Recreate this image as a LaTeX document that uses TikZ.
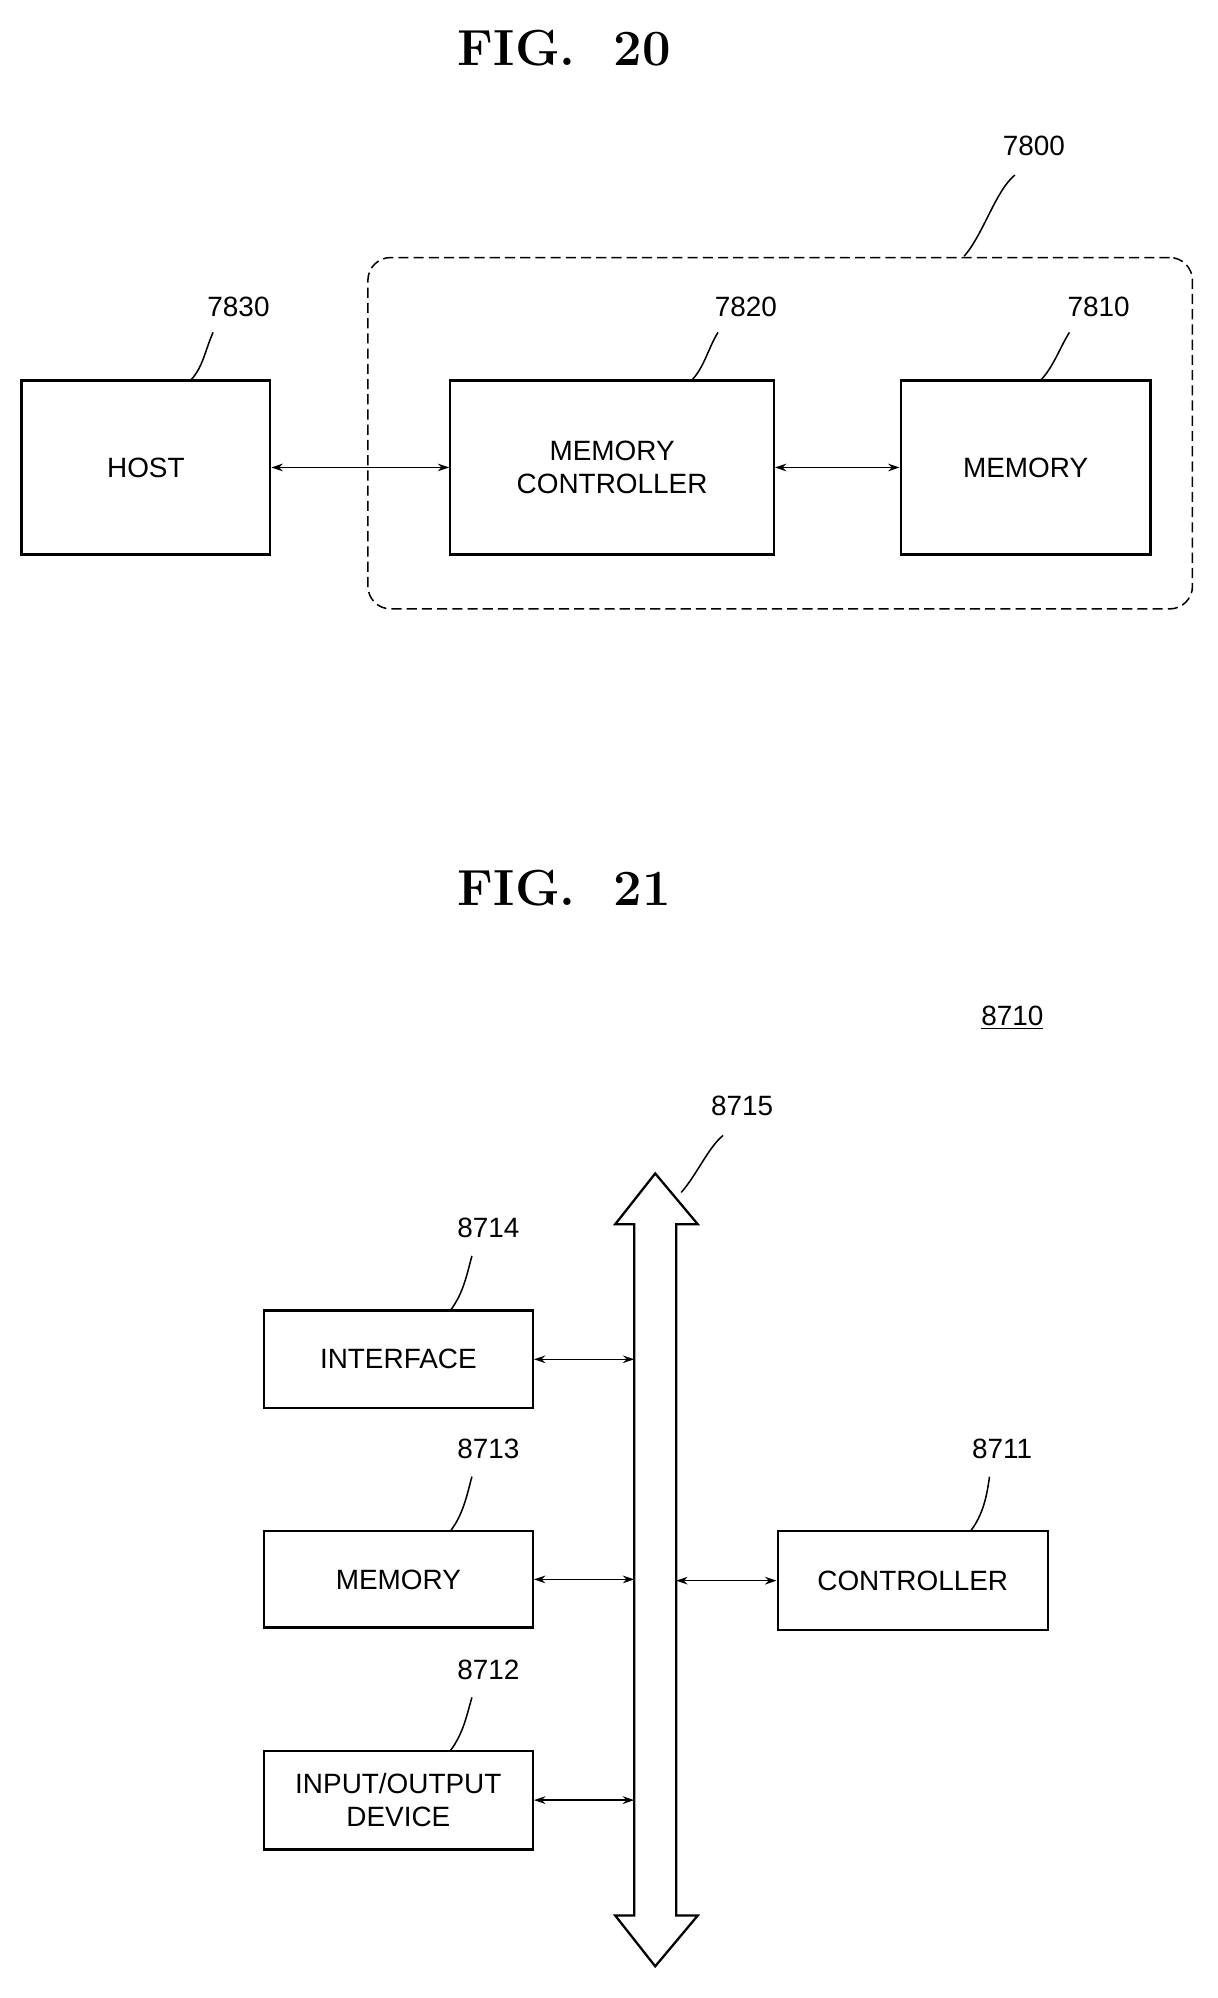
\documentclass[tikz,border=0pt]{standalone}
\usepackage{fontspec}
\setsansfont{Liberation Sans}
\usetikzlibrary{arrows.meta}
\begin{document}
\begin{tikzpicture}[x=1pt,y=-1pt,
  box/.style={draw,line width=1.8pt,inner sep=0pt,font=\sffamily\fontsize{22}{26}\selectfont,align=center},
  lbl/.style={font=\sffamily\fontsize{22}{26}\selectfont},
  fig/.style={font=\bfseries\fontsize{40}{44}\selectfont},
  con/.style={line width=1.2pt,{Stealth[length=9pt,width=6pt]}-{Stealth[length=9pt,width=6pt]}},
  lead/.style={line width=1.2pt}]
\useasboundingbox (0,0) rectangle (960,1575);
\node[fig] (f20) at (445,38) {FIG.\ \ 20};
\node[draw,dash pattern=on 8pt off 4pt,line width=1.2pt,rounded corners=18pt,minimum width=650pt,minimum height=277pt] (g7800) at (615,341.5) {};
\node[lbl] (l7800) at (815,115) {7800};
\draw[lead] (760,202) .. controls (775,185) and (785,150) .. (800,138);
\node[box,minimum width=196pt,minimum height=137pt] (host) at (115,368.5) {HOST};
\node[box,minimum width=255pt,minimum height=137pt] (mc) at (482.5,368.5) {MEMORY\\CONTROLLER};
\node[box,minimum width=197pt,minimum height=137pt] (mem) at (808.5,368.5) {MEMORY};
\node[lbl] (l7830) at (188,242) {7830};
\node[lbl] (l7820) at (588,242) {7820};
\node[lbl] (l7810) at (866,242) {7810};
\draw[lead] (150,300) .. controls (160,290) and (162,275) .. (168,262);
\draw[lead] (545,300) .. controls (555,290) and (558,275) .. (566,262);
\draw[lead] (820,300) .. controls (830,290) and (835,275) .. (843,262);
\draw[con] (host.east) -- (mc.west);
\draw[con] (mc.east) -- (mem.west);

\node[fig] (f21) at (445,700) {FIG.\ \ 21};
\node[lbl] (l8710) at (798,802) {\underline{8710}};
\draw[line width=1.8pt,line join=miter] (500,965) -- (485,965) -- (516.5,925) -- (550,965) -- (533,965)
  -- (533,1510) -- (550,1510) -- (516.5,1550) -- (485,1510) -- (500,1510) -- cycle;
\coordinate (bx) at (500,0); \coordinate (bxr) at (533,0);
\node[lbl] (l8715) at (585,872) {8715};
\draw[lead] (537,940) .. controls (550,925) and (558,905) .. (570,895);
\node[box,minimum width=212pt,minimum height=77pt] (if) at (314,1071.5) {INTERFACE};
\node[box,minimum width=212pt,minimum height=76pt] (m2) at (314,1245) {MEMORY};
\node[box,minimum width=212pt,minimum height=78pt] (io) at (314,1419) {INPUT/OUTPUT\\DEVICE};
\node[box,minimum width=213pt,minimum height=78pt] (ctl) at (719.5,1246) {CONTROLLER};
\node[lbl] (l8714) at (385,968) {8714};
\node[lbl] (l8713) at (385,1142) {8713};
\node[lbl] (l8712) at (385,1316) {8712};
\node[lbl] (l8711) at (790,1142) {8711};
\draw[lead] (355,1033) .. controls (365,1020) and (368,1005) .. (372,990);
\draw[lead] (355,1207) .. controls (365,1194) and (368,1179) .. (372,1164);
\draw[lead] (355,1380) .. controls (365,1367) and (368,1352) .. (372,1338);
\draw[lead] (765,1207) .. controls (775,1194) and (778,1179) .. (780,1164);
\draw[con] (if.east) -- (if.east -| bx);
\draw[con] (m2.east) -- (m2.east -| bx);
\draw[con] (io.east) -- (io.east -| bx);
\draw[con] (ctl.west) -- (ctl.west -| bxr);
\end{tikzpicture}
\end{document}
